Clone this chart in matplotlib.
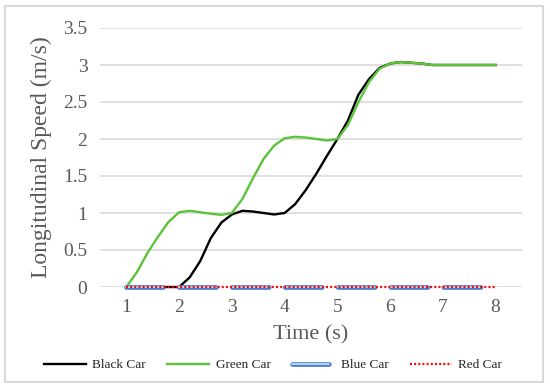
import matplotlib
matplotlib.use("Agg")
import matplotlib.pyplot as plt
import matplotlib.patheffects as pe
from matplotlib.patches import Rectangle
import numpy as np

# time samples (s), read every 0.2 s off the reference
time_s = [1.0, 1.2, 1.4, 1.6, 1.8, 2.0, 2.2, 2.4, 2.6, 2.8,
          3.0, 3.2, 3.4, 3.6, 3.8, 4.0, 4.2, 4.4, 4.6, 4.8,
          5.0, 5.2, 5.4, 5.6, 5.8, 6.0, 6.2, 6.4, 6.6, 6.8,
          7.0, 7.2, 7.4, 7.6, 7.8, 8.0]

green_car = [0.0, 0.20, 0.46, 0.68, 0.88, 1.01, 1.03, 1.01, 0.99, 0.975,
             1.0, 1.19, 1.47, 1.73, 1.91, 2.01, 2.03, 2.02, 2.0, 1.98,
             2.0, 2.19, 2.50, 2.77, 2.95, 3.02, 3.04, 3.03, 3.02, 3.0,
             3.0, 3.0, 3.0, 3.0, 3.0, 3.0]

black_car = [0.0, 0.0, 0.0, 0.0, 0.0, 0.0, 0.13, 0.35, 0.66, 0.87,
             0.98, 1.03, 1.02, 1.0, 0.98, 1.0, 1.12, 1.31, 1.53, 1.77,
             2.0, 2.25, 2.60, 2.81, 2.96, 3.02, 3.04, 3.03, 3.02, 3.0,
             3.0, 3.0, 3.0, 3.0, 3.0, 3.0]

blue_car = [0.0] * len(time_s)
red_car = [0.0] * len(time_s)

x_ticks = [1, 2, 3, 4, 5, 6, 7, 8]
y_ticks = [0, 0.5, 1, 1.5, 2, 2.5, 3, 3.5]
y_tick_labels = ["0", "0.5", "1", "1.5", "2", "2.5", "3", "3.5"]

plt.rcParams["font.family"] = ["Liberation Serif", "DejaVu Serif"]
plt.rcParams["lines.scale_dashes"] = False

W, H = 550, 387
fig = plt.figure(figsize=(W / 100, H / 100), dpi=100)
ax = fig.add_axes([100 / W, 1 - 287 / H, 422 / W, 259 / H])

grey = "#595959"

ax.plot(time_s, black_car, color="black", lw=1.7, label="Black Car",
        zorder=3, clip_on=False)
ax.plot(time_s, green_car, color="#5CC43A", lw=1.7, label="Green Car",
        zorder=4, clip_on=False)
ax.plot(time_s, blue_car, color="#BDD7EE", lw=1.4, dashes=(26.6, 11.5),
        solid_capstyle="round", dash_capstyle="round", label="Blue Car",
        zorder=5, clip_on=False,
        path_effects=[pe.Stroke(linewidth=3.4, foreground="#4A7FD6"), pe.Normal()])
ax.plot(time_s, red_car, color="#FF0000", lw=1.6, linestyle=(0, (1.4, 1.6)),
        label="Red Car", zorder=6, clip_on=False)

ax.set_xlim(0.5, 8.5)
ax.set_ylim(0, 3.5)
ax.set_xticks(x_ticks)
ax.set_yticks(y_ticks)
ax.set_yticklabels(y_tick_labels)
ax.tick_params(length=0, labelsize=14, colors=grey, pad=9)
ax.grid(axis="y", color="#d9d9d9", lw=1.2)
ax.set_axisbelow(True)
for s in ax.spines.values():
    s.set_visible(False)

ax.set_xlabel("Time (s)", fontsize=16, color=grey, labelpad=6)
ax.set_ylabel("Longitudinal Speed (m/s)", fontsize=17, color=grey, labelpad=8)

leg = ax.legend(loc="center", bbox_to_anchor=(273 / W, 1 - 365 / H),
                bbox_transform=fig.transFigure, ncol=4, frameon=False,
                fontsize=9.5, handlelength=3.2, columnspacing=1.6, handletextpad=0.5)
for t in leg.get_texts():
    t.set_color("#262626")

fig.patches.append(Rectangle((5 / W, 1 - 382 / H), 538 / W, 376 / H,
                             transform=fig.transFigure, fill=False,
                             edgecolor="#d9d9d9", lw=1.5))

fig.savefig("out.png", dpi=100)
